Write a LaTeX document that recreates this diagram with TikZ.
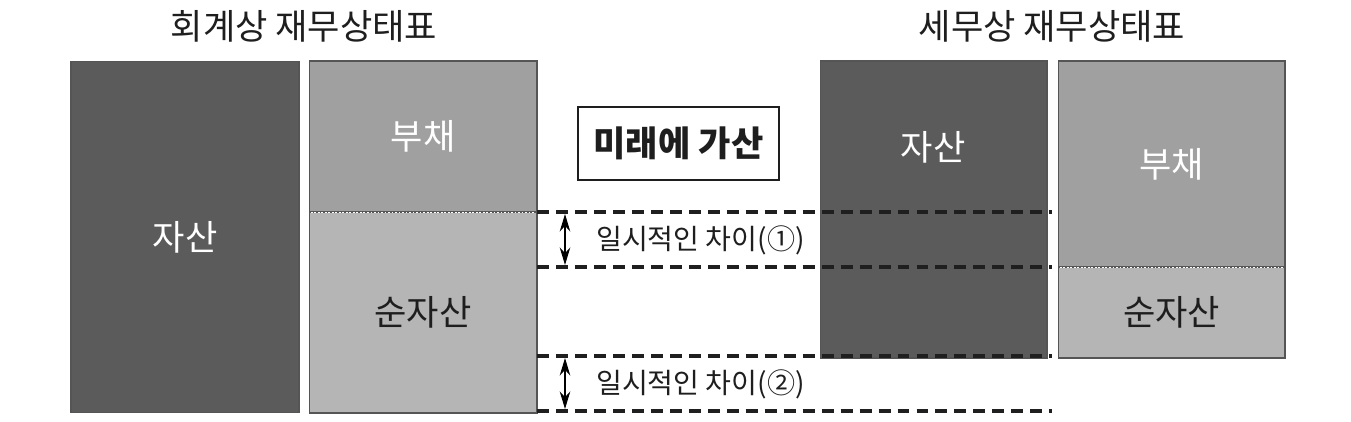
\documentclass[tikz,border=0pt]{standalone}
\usepackage{fontspec}
\setmainfont{Noto Sans CJK KR}
\usetikzlibrary{arrows.meta}
\definecolor{assetgray}{HTML}{5B5B5B}
\definecolor{debtgray}{HTML}{A0A0A0}
\definecolor{netgray}{HTML}{B5B5B5}
\definecolor{edgegray}{HTML}{555555}
\definecolor{inkgray}{HTML}{1E1E1E}
\begin{document}
\begin{tikzpicture}[x=0.02cm, y=-0.02cm,
  part/.style={draw=edgegray, line width=0.6pt, inner sep=0pt, outer sep=0pt, font=\fontsize{20}{22}\selectfont},
  asset/.style={part, fill=assetgray, text=white},
  debt/.style={part, fill=debtgray, text=white},
  net/.style={part, fill=netgray, text=inkgray},
  split/.style={draw=white, line width=0.5pt, dash pattern=on 1pt off 1pt},
  guide/.style={draw=black!88, line width=2.2pt, dash pattern=on 6.8pt off 4pt},
  span/.style={{Stealth[length=10pt,width=6pt]}-{Stealth[length=10pt,width=6pt]}, line width=0.6pt},
  title/.style={font=\fontsize{20}{22}\selectfont, text=inkgray}]
\useasboundingbox (0,0) rectangle (1351,422);
\begin{scope}
\node[title] (t1) at (304,26) {회계상 재무상태표};
\node[title] (t2) at (1052,26) {세무상 재무상태표};
\end{scope}
% accounting side
\node[asset, minimum width=4.56cm, minimum height=7.04cm] (a1) at (185,237) {자산};
\node[debt, minimum width=4.56cm, minimum height=3.02cm] (b1) at (423,136.5) {부채};
\node[net, minimum width=4.56cm, minimum height=4.02cm] (n1) at (423,312.5) {순자산};
\draw[split] ([xshift=1pt]b1.south west) -- ([xshift=-1pt]b1.south east);
% tax side
\node[asset, minimum width=4.54cm, minimum height=5.94cm] (a2) at (933.5,209.5) {};
\node[text=white, font=\fontsize{20}{22}\selectfont] (a2t) at (933,147) {자산};
\node[debt, minimum width=4.54cm, minimum height=4.12cm] (b2) at (1171.5,164) {부채};
\node[net, minimum width=4.54cm, minimum height=1.82cm] (n2) at (1171.5,312.5) {순자산};
\draw[split] ([xshift=1pt]b2.south west) -- ([xshift=-1pt]b2.south east);
% middle
\node[draw=inkgray, line width=0.8pt, minimum width=4.02cm, minimum height=1.46cm, font=\fontsize{20}{22}\selectfont\bfseries, text=inkgray] (fut) at (678.5,143.5) {미래에 가산};
\coordinate (g1a) at (537,212);
\coordinate (g1b) at (1052,212);
\coordinate (g2a) at (537,267);
\coordinate (g2b) at (1052,267);
\coordinate (g3a) at (537,356);
\coordinate (g3b) at (1052,356);
\coordinate (g4a) at (537,411);
\coordinate (g4b) at (1052,411);
\draw[guide] (g1a) -- (g1b);
\draw[guide] (g2a) -- (g2b);
\draw[guide] (g3a) -- (g3b);
\draw[guide] (g4a) -- (g4b);
\coordinate (s1a) at (565,214);
\coordinate (s1b) at (565,265);
\coordinate (s2a) at (565,358);
\coordinate (s2b) at (565,409);
\draw[span] (s1a) -- (s1b);
\draw[span] (s2a) -- (s2b);
\begin{scope}[every node/.style={anchor=west, font=\fontsize{16}{18}\selectfont, text=inkgray}]
\node (d1) at (590,240) {일시적인 차이(①)};
\node (d2) at (590,384) {일시적인 차이(②)};
\end{scope}
\end{tikzpicture}
\end{document}
